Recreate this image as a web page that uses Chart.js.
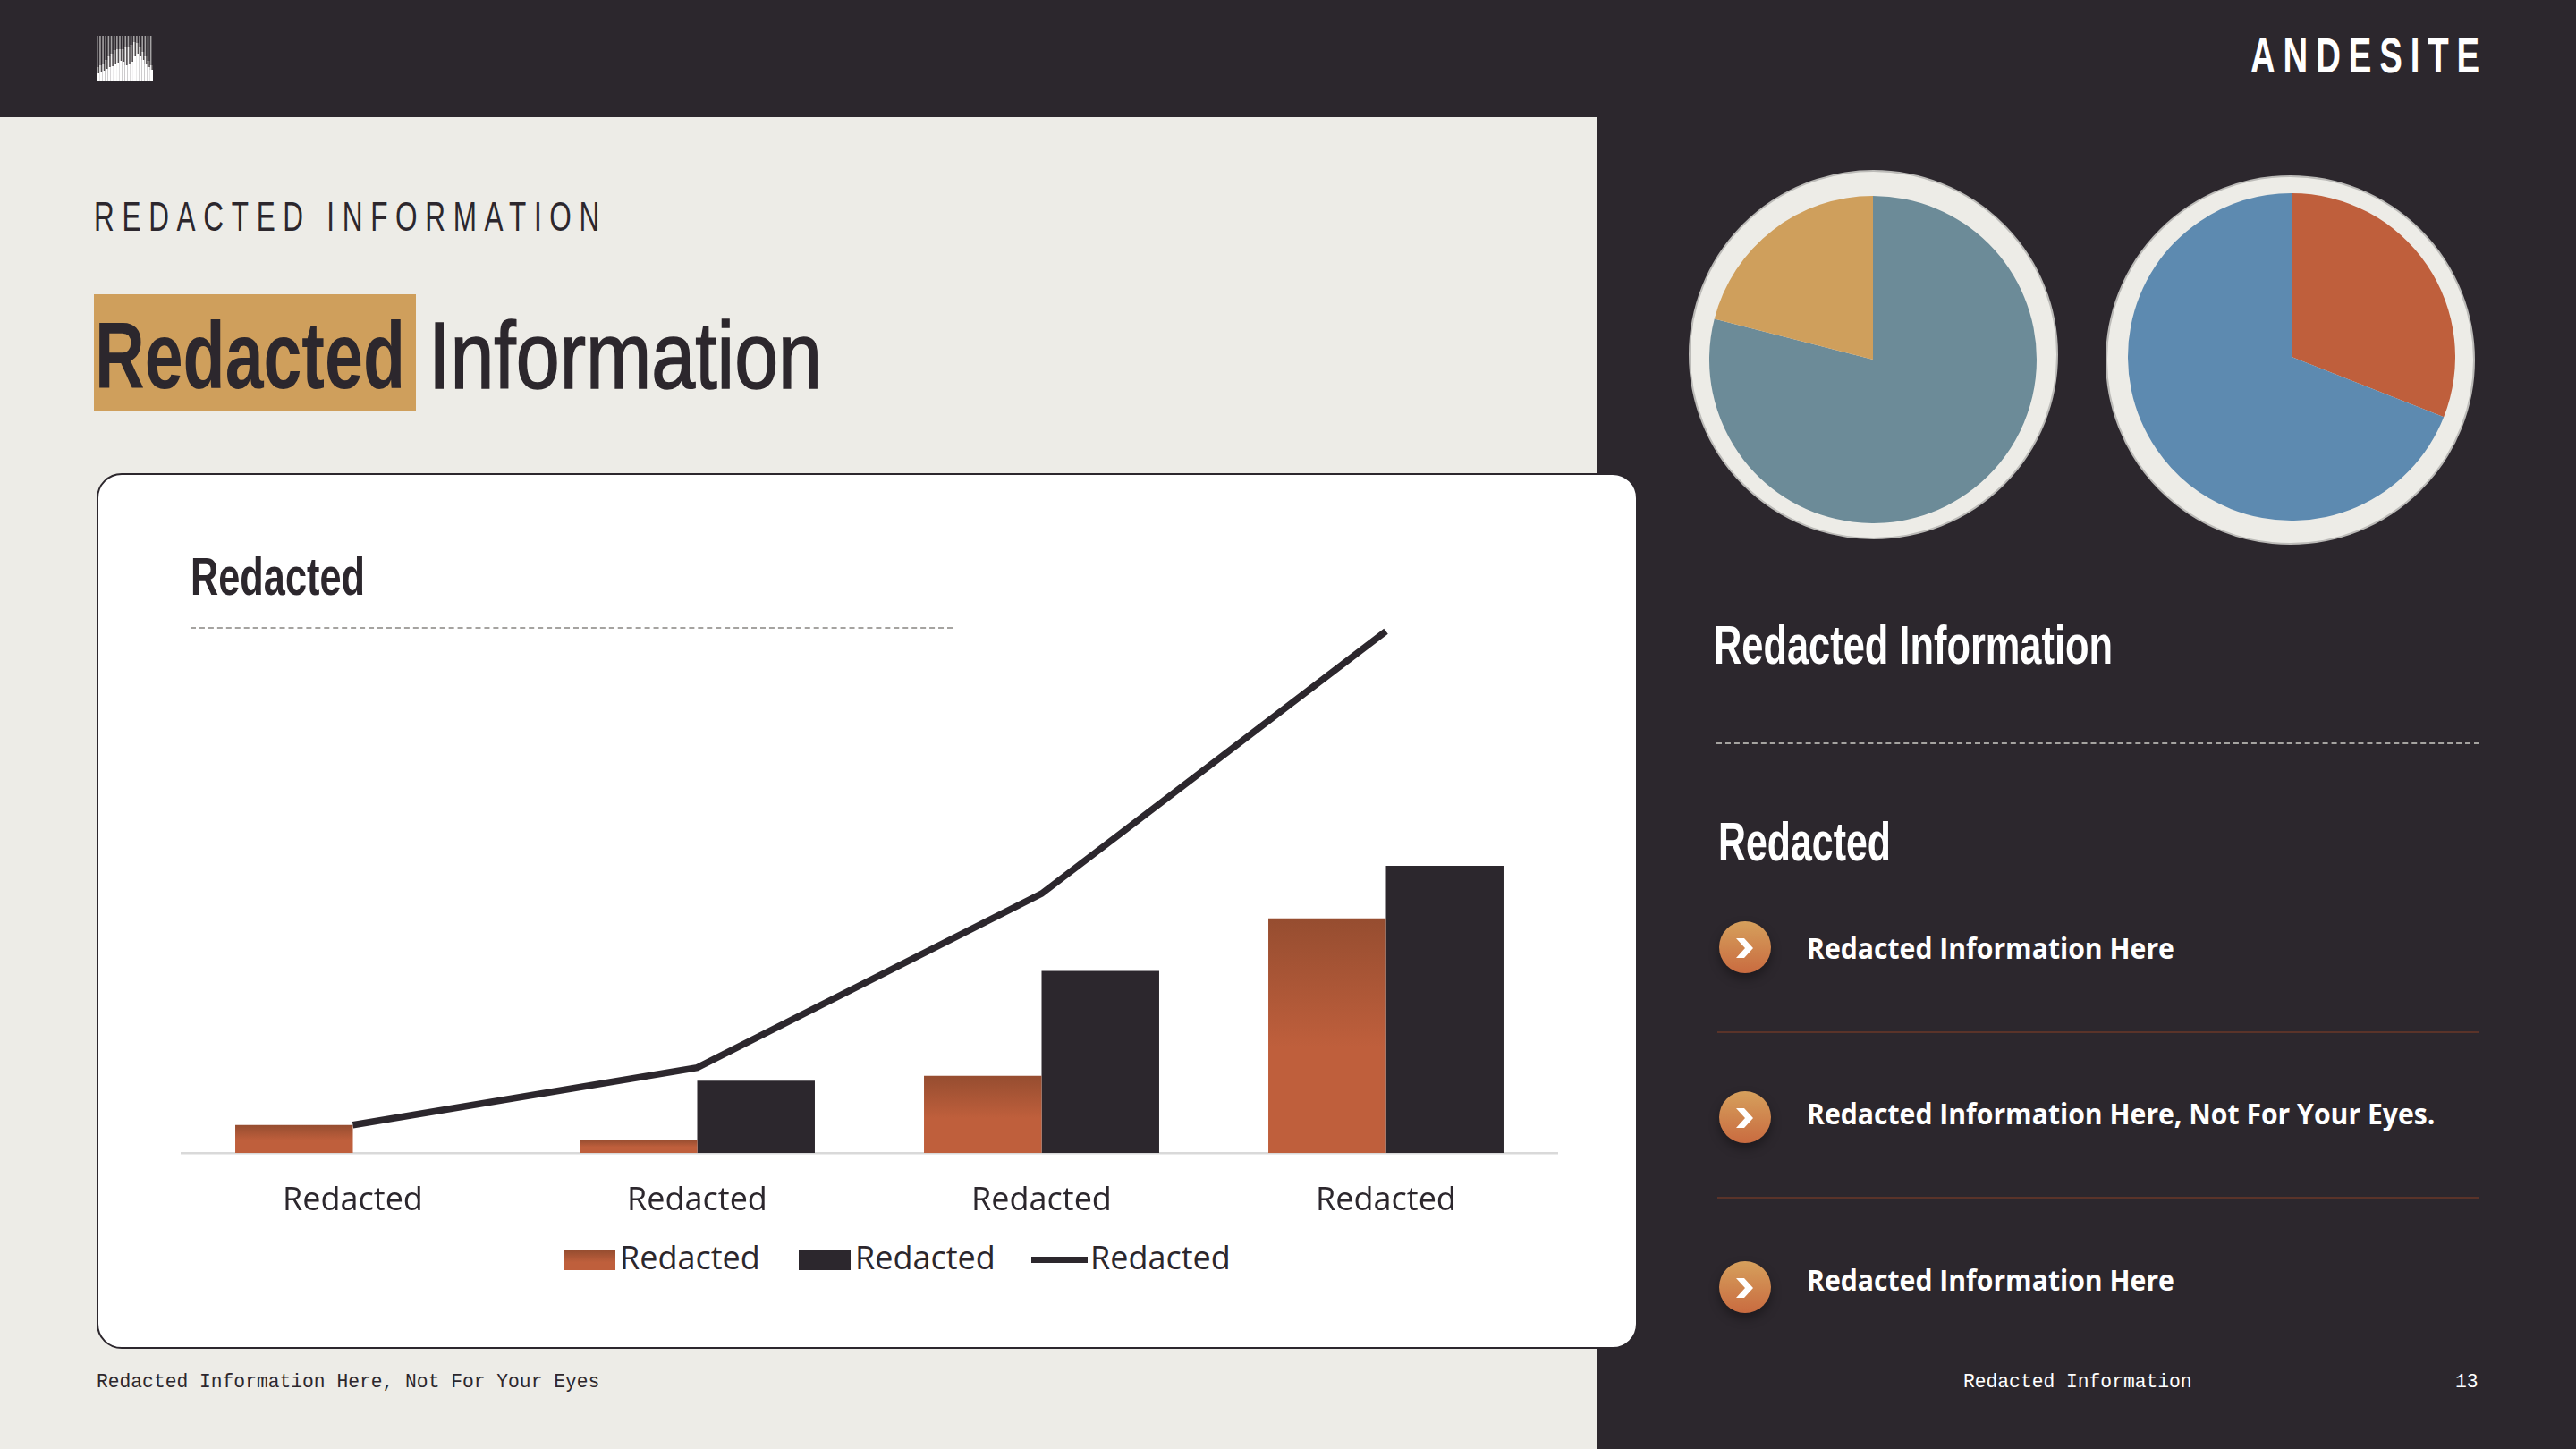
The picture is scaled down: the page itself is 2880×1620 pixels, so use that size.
<!DOCTYPE html>
<html>
<head>
<meta charset="utf-8">
<script src="https://cdn.jsdelivr.net/npm/chart.js@4"></script>
<style>
  html,body{margin:0;padding:0;background:#2c272d}
  #page{position:relative;width:2880px;height:1620px;overflow:hidden;background:#2c272d;color:#2c272d;font-family:"Open Sans",sans-serif}
  #page div,#page span{position:absolute;white-space:nowrap}
  .narrow{font-family:"Liberation Sans Narrow","Liberation Sans",sans-serif;font-weight:700;transform-origin:0 50%;line-height:1}
  .mono{font-family:"Liberation Mono",monospace;font-size:21.3px;line-height:1;transform-origin:0 50%}
  .item{font-weight:700;font-size:32px;color:#fff;line-height:1;transform-origin:0 50%;transform:translateY(-50%) scaleX(.942)}
  .rule{height:2px;background:#5a3329}
  .dash{height:0;border-top:2px dashed #a5a3a0}
  .bullet{width:58px;height:58px;border-radius:50%;background:linear-gradient(#d6a05c,#c96b40);box-shadow:0 6px 12px rgba(0,0,0,.35)}
  .ring{width:409px;height:409px;border-radius:50%;background:#edece7;border:2.5px solid #bcbbb8}
  #legend span{line-height:1}
</style>
</head>
<body>
<div id="page">
  <div style="left:0;top:131px;width:1785px;height:1489px;background:#edece7"></div>

  <svg id="logo" style="position:absolute;left:108px;top:39px" width="63" height="52"></svg>
  <div class="narrow" data-w="265" style="left:2516px;top:34px;font-size:56px;letter-spacing:13px;color:#fff">ANDESITE</div>

  <div class="narrow" data-w="574" style="left:105px;top:218px;font-size:47px;font-weight:400;letter-spacing:13px">REDACTED INFORMATION</div>
  <div style="left:105px;top:329px;width:360px;height:131px;background:#cf9f5c"></div>
  <div class="narrow" data-w="347" style="left:106px;top:344px;font-size:106px">Redacted</div>
  <div class="narrow" data-w="440" style="left:479px;top:344px;font-size:106px;font-weight:400;-webkit-text-stroke:1.6px #2c272d">Information</div>

  <div style="left:108px;top:529px;width:1719px;height:975px;background:#fff;border:2px solid #2c272d;border-radius:28px"></div>
  <div class="narrow" data-w="195" style="left:213px;top:615px;font-size:60px">Redacted</div>
  <div class="dash" style="left:213px;top:701px;width:852px"></div>

  <div style="left:202px;top:680px;width:1540px;height:700px"><canvas id="combo"></canvas></div>
  <div id="legend" style="left:0;top:0"></div>

  <div class="mono" style="left:108px;top:1535px">Redacted Information Here, Not For Your Eyes</div>

  <div class="ring" style="left:1888px;top:190px"></div>
  <div style="left:1911px;top:219px;width:366px;height:366px"><canvas id="pieA"></canvas></div>
  <div class="ring" style="left:2354px;top:196px"></div>
  <div style="left:2379px;top:216px;width:366px;height:366px"><canvas id="pieB"></canvas></div>

  <div class="narrow" data-w="446" style="left:1916px;top:690px;font-size:62px;color:#fff">Redacted Information</div>
  <div class="dash" style="left:1919px;top:830px;width:853px"></div>
  <div class="narrow" data-w="193" style="left:1921px;top:910px;font-size:62px;color:#fff">Redacted</div>

  <div id="items"></div>

  <div class="mono" style="left:2195px;top:1535px;color:#fff">Redacted Information</div>
  <div class="mono" style="left:2745px;top:1535px;color:#fff">13</div>
</div>

<script>
const categories = ['Redacted','Redacted','Redacted','Redacted'];
const seriesNames = ['Redacted','Redacted','Redacted'];
const lowerBars = [17,8,47,143];
const upperBars = [0,44,111,175];
const totalLine = [17,52,158,318];
const pieAValues = [79,21];
const pieBValues = [31,69];
const listItems = ['Redacted Information Here','Redacted Information Here, Not For Your Eyes.','Redacted Information Here'];

const C = {dark:'#2c272d', rust:'#bf5f3c', rustTop:'#964d30', gold:'#cf9f5c', teal:'#6c8b98', blue:'#5d8ab0', axis:'#d9d9d9'};
const FONT = '"Open Sans", sans-serif';

/* each bar gets its own dark-to-rust fade */
function rustFill(ctx){
  if(ctx.type!=='data' || !ctx.chart.scales.y) return C.rust;
  const y=ctx.chart.scales.y, top=y.getPixelForValue(ctx.raw), bottom=y.getPixelForValue(0);
  if(!Number.isFinite(top) || !Number.isFinite(bottom) || bottom-top<1) return C.rust;
  const g=ctx.chart.ctx.createLinearGradient(0,top,0,bottom);
  g.addColorStop(0,C.rustTop);
  g.addColorStop(.55,C.rust);
  g.addColorStop(1,C.rust);
  return g;
}

new Chart(document.getElementById('combo'),{
  data:{labels:categories,datasets:[
    {type:'line',label:seriesNames[2],data:totalLine,borderColor:C.dark,borderWidth:7.5,tension:0,pointRadius:0,fill:false,order:0},
    {type:'bar',label:seriesNames[0],data:lowerBars,backgroundColor:rustFill,order:1},
    {type:'bar',label:seriesNames[1],data:upperBars,backgroundColor:C.dark,order:1}
  ]},
  options:{
    responsive:true,maintainAspectRatio:false,animation:false,
    layout:{padding:0},
    datasets:{bar:{categoryPercentage:.683,barPercentage:1}},
    plugins:{legend:{display:false},tooltip:{enabled:false}},
    scales:{
      x:{
        afterFit:a=>{a.height=91},
        grid:{display:false,drawTicks:false},
        border:{color:C.axis,width:2.5},
        ticks:{color:C.dark,padding:32,maxRotation:0,font:{family:FONT,size:36}}
      },
      y:{display:false,min:0,max:332}
    }
  }
});

function pie(id,values,colors){
  new Chart(document.getElementById(id),{
    type:'pie',
    data:{labels:values.map((v,i)=>'Redacted '+(i+1)),datasets:[{data:values,backgroundColor:colors,borderWidth:0}]},
    options:{responsive:true,maintainAspectRatio:false,animation:false,layout:{padding:0},plugins:{legend:{display:false},tooltip:{enabled:false}}}
  });
}
pie('pieA',pieAValues,[C.teal,C.gold]);
pie('pieB',pieBValues,[C.rust,C.blue]);

/* legend: swatch sits tight against the text, so it is built by hand */
const legend=document.getElementById('legend');
const swatchX=[630,893,1153], labelX=[693,956,1219];
seriesNames.forEach((name,i)=>{
  const s=document.createElement('span');
  if(i==2) s.style.cssText=`left:${swatchX[i]}px;top:1405px;width:63px;height:7px;background:${C.dark}`;
  else s.style.cssText=`left:${swatchX[i]}px;top:1398px;width:58px;height:22px;background:${i==0?`linear-gradient(${C.rustTop},${C.rust} 60%)`:C.dark}`;
  legend.appendChild(s);
  const t=document.createElement('span');
  t.textContent=name;
  t.style.cssText=`left:${labelX[i]}px;top:1388px;font-size:36px;color:${C.dark}`;
  legend.appendChild(t);
});

/* right hand list */
const items=document.getElementById('items');
const itemY=[1060,1245,1431], bulletY=[1030,1220,1410], ruleY=[1153,1338];
listItems.forEach((txt,i)=>{
  items.insertAdjacentHTML('beforeend',`<div class="bullet" style="left:1922px;top:${bulletY[i]}px">
    <svg style="position:absolute;left:0;top:0" width="58" height="58" viewBox="0 0 58 58"><path d="M19 19 L28 19 L38 30 L28 41 L19 41 L29 30 Z" fill="#fff"/></svg></div>
    <div class="item" style="left:2020px;top:${itemY[i]}px">${txt}</div>`);
});
ruleY.forEach(y=>items.insertAdjacentHTML('beforeend',`<div class="rule" style="left:1920px;top:${y}px;width:852px"></div>`));

/* logo: thin vertical bars, a grey ridge behind and a white one in front */
const ridgeBack=[36,34,32,28,24,21,17,16,16,16,14,13,11,8,9,14,19,24,29,34];
const ridgeFront=[43,42,40,38,36,35,33,31,29,30,34,33,30,24,21,24,28,32,36,39];
let logo='';
ridgeFront.forEach((f,i)=>{
  const x=i*63/20, w=63/20, b=ridgeBack[i];
  logo+=`<rect x="${x}" y="1" width="${w*.5}" height="${b}" fill="#a5a3a4"/>`;
  logo+=`<rect x="${x}" y="${b}" width="${w}" height="${f-b}" fill="#4f4b4d"/>`;
  logo+=`<rect x="${x}" y="${b}" width="${w*.5}" height="${f-b}" fill="#f0efef"/>`;
  logo+=`<rect x="${x}" y="${f}" width="${w}" height="${52-f}" fill="#fff"/>`;
});
document.getElementById('logo').innerHTML=logo;

/* the condensed brand face is not installed, squeeze the narrow one to the measured widths */
document.querySelectorAll('[data-w]').forEach(el=>{
  const w=el.getBoundingClientRect().width;
  el.style.transform=`scaleX(${el.dataset.w/w})`;
});
</script>
</body>
</html>
